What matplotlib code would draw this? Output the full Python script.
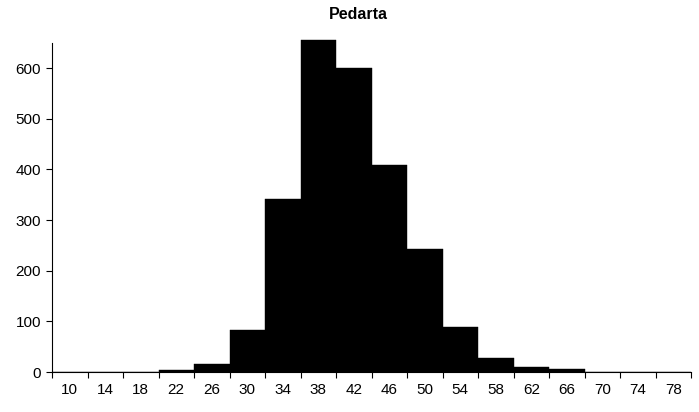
import matplotlib
matplotlib.use("Agg")
import matplotlib.pyplot as plt
import numpy as np

plt.rcParams['font.family'] = ['Liberation Sans', 'DejaVu Sans']

# bin labels (width 4) and counts
bins = [10, 14, 18, 22, 26, 30, 34, 38, 42, 46, 50, 54, 58, 62, 66, 70, 74, 78]
counts = [0, 0, 0, 4, 16, 82, 342, 655, 601, 409, 242, 89, 28, 9, 6, 0, 0, 0]
title = "Pedarta"

fig = plt.figure(figsize=(6.99, 4.12), dpi=100)
ax = fig.add_axes([52 / 699, 40 / 412, 639 / 699, 329.3 / 412])

x = np.arange(len(bins))
ax.bar(x + 0.5, counts, width=1.0, color='black', edgecolor='black',
       linewidth=0.3, clip_on=False, zorder=2)

ax.set_xlim(0, len(bins))
ax.set_ylim(0, 650)

# ticks on bin edges, labels in bin centres
ax.set_xticks(np.arange(len(bins) + 1))
ax.set_xticklabels([])
ax.set_xticks(x + 0.5, minor=True)
ax.set_xticklabels([str(b) for b in bins], minor=True)
ax.tick_params(axis='x', which='major', direction='out', length=4, width=0.8)
ax.tick_params(axis='x', which='minor', length=0, pad=8, labelsize=11)

ax.set_yticks(range(0, 700, 100))
ax.tick_params(axis='y', direction='out', length=4, width=0.8, pad=4, labelsize=11)

for s in ['top', 'right']:
    ax.spines[s].set_visible(False)
ax.spines['left'].set_linewidth(0.8)
ax.spines['bottom'].set_linewidth(0.8)

ax.set_title(title, fontsize=11.5, fontweight='bold', pad=17, x=0.48)

fig.savefig('out.png', dpi=100)
